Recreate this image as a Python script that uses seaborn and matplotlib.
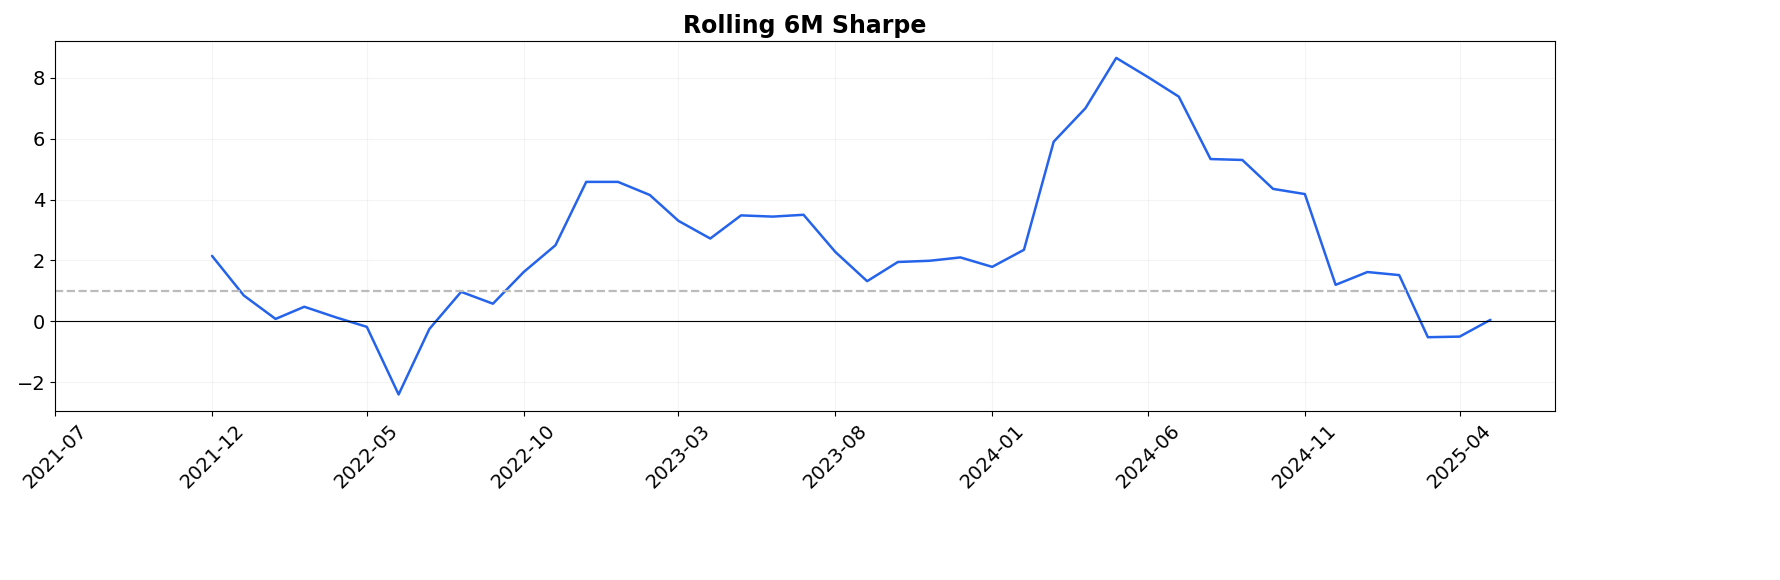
import pandas as pd
import matplotlib.pyplot as plt
import matplotlib.dates as mdates
import seaborn as sns

sns.set_style("ticks")
plt.rcParams["text.color"] = "black"
plt.rcParams["xtick.color"] = "black"
plt.rcParams["ytick.color"] = "black"
plt.rcParams["axes.edgecolor"] = "black"

dates = pd.date_range("2021-12-01", "2025-05-01", freq="MS")
sharpe = [2.15, 0.85, 0.08, 0.48, 0.13, -0.18, -2.4, -0.25, 0.97, 0.58,
          1.62, 2.5, 4.58, 4.58, 4.15, 3.3, 2.72, 3.48, 3.44, 3.5,
          2.28, 1.32, 1.95, 1.99, 2.1, 1.79, 2.35, 5.9, 7.0, 8.65,
          8.02, 7.38, 5.33, 5.3, 4.35, 4.18, 1.2, 1.62, 1.52, -0.52,
          -0.5, 0.05]
df = pd.DataFrame({"date": dates, "sharpe": sharpe})

fig, ax = plt.subplots(figsize=(17.8, 5.8), dpi=100)
sns.lineplot(data=df, x="date", y="sharpe", ax=ax, color="#2563eb", linewidth=1.8)
ax.axhline(1, color="#bbbbbb", linestyle="--", linewidth=1.6)
ax.axhline(0, color="black", linewidth=0.8)

ax.set_xlim(pd.Timestamp("2021-07-01"), pd.Timestamp("2025-07-03"))
ax.set_ylim(-2.95, 9.2)
ax.set_xticks(pd.date_range("2021-07-01", "2025-04-01", freq="5MS"))
ax.xaxis.set_major_formatter(mdates.DateFormatter("%Y-%m"))
ax.tick_params(axis="x", labelrotation=45, labelsize=14)
ax.tick_params(axis="y", labelsize=14)
ax.grid(True, alpha=0.2)
ax.set_xlabel("")
ax.set_ylabel("")
ax.set_title("Rolling 6M Sharpe", fontsize=17, fontweight="bold")

fig.subplots_adjust(left=0.031, right=0.8736 + 0.0, top=0.929, bottom=0.291)
fig.subplots_adjust(right=1555 / 1780)
plt.savefig("out.png")
